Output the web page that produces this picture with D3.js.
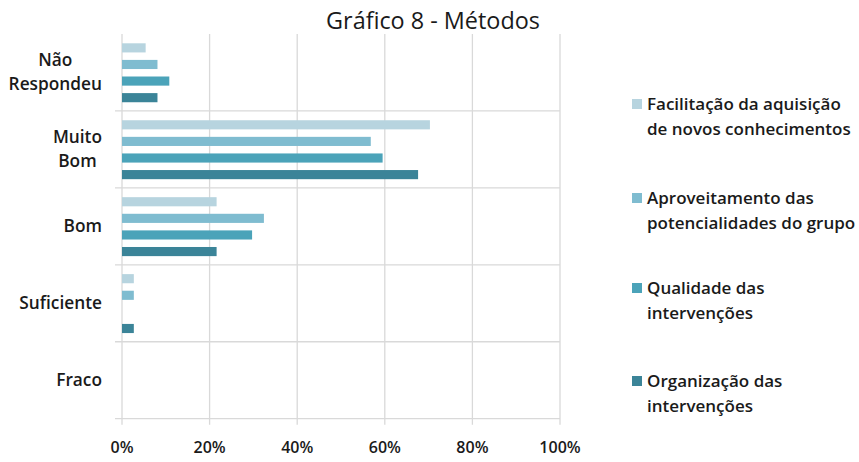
<!DOCTYPE html>
<html><head><meta charset="utf-8">
<script src="https://cdn.jsdelivr.net/npm/d3@7"></script>
<style>body{margin:0;background:#fff}svg{display:block}</style>
</head><body>
<svg id="c" width="859" height="462"></svg>
<script>
const title = "Gráfico 8 - Métodos";
const categories = ["Não Respondeu", "Muito Bom", "Bom", "Suficiente", "Fraco"];
const categoryLines = [["Não", "Respondeu"], ["Muito", "Bom"], ["Bom"], ["Suficiente"], ["Fraco"]];
const seriesNames = ["Facilitação da aquisição de novos conhecimentos", "Aproveitamento das potencialidades do grupo", "Qualidade das intervenções", "Organização das intervenções"];
const legendLines = [["Facilitação da aquisição", "de novos conhecimentos"], ["Aproveitamento das", "potencialidades do grupo"], ["Qualidade das", "intervenções"], ["Organização das", "intervenções"]];
const colors = ["#b7d4df", "#7fbcd0", "#4ba3b9", "#3b8498"];
// values in %, per series, in category order
const facilitacao   = [5.4, 70.3, 21.6, 2.7, 0];
const aproveitamento = [8.1, 56.8, 32.4, 2.7, 0];
const qualidade     = [10.8, 59.5, 29.7, 0, 0];
const organizacao   = [8.1, 67.6, 21.6, 2.7, 0];
const seriesValues = [facilitacao, aproveitamento, qualidade, organizacao];
const tickValues = [0, 20, 40, 60, 80, 100];

const svg = d3.select("#c");
const FONT = "'Open Sans', Lato, sans-serif";
const pLeft = 122, pRight = 560, pTop = 34, pBottom = 418.7;

const x = d3.scaleLinear().domain([0, 100]).range([pLeft, pRight]);
const y = d3.scaleBand().domain(categories).range([pTop, pBottom]);
const inner = d3.scaleBand().domain(d3.range(seriesNames.length))
  .range([9.3, y.bandwidth() - 8.7]).paddingInner(0.45);

const grid = "#d9d9d9";
svg.append("g").selectAll("line").data(tickValues).join("line")
  .attr("x1", d => x(d)).attr("x2", d => x(d))
  .attr("y1", pTop).attr("y2", pBottom + 6)
  .attr("stroke", grid).attr("stroke-width", 1.3);
const seps = categories.map(c => y(c)).concat([pBottom]);
svg.append("g").selectAll("line").data(seps.slice(1)).join("line")
  .attr("x1", pLeft - 7).attr("x2", pRight)
  .attr("y1", d => d).attr("y2", d => d)
  .attr("stroke", grid).attr("stroke-width", 1.3);

categories.forEach((c, ci) => {
  seriesValues.forEach((vals, si) => {
    if (vals[ci] <= 0) return;
    svg.append("rect")
      .attr("x", x(0)).attr("y", y(c) + inner(si))
      .attr("width", x(vals[ci]) - x(0)).attr("height", inner.bandwidth())
      .attr("fill", colors[si]);
  });
});

svg.append("g").selectAll("text").data(tickValues).join("text")
  .attr("x", d => x(d)).attr("y", 453)
  .attr("text-anchor", "middle")
  .attr("font-family", FONT).attr("font-weight", 600).attr("font-size", 16)
  .attr("fill", "#1a1a1a")
  .text(d => d + "%");

categories.forEach((c, ci) => {
  const lines = categoryLines[ci];
  const g = svg.append("g");
  const texts = lines.map((l) => g.append("text")
    .attr("font-family", FONT).attr("font-weight", 600).attr("font-size", 17.3)
    .attr("fill", "#1a1a1a").attr("text-anchor", "middle").text(l));
  const w = d3.max(texts, t => t.node().getComputedTextLength());
  const cx = 102 - w / 2;
  const cy = y(c) + y.bandwidth() / 2;
  const lh = 24;
  texts.forEach((t, li) => {
    t.attr("x", cx).attr("y", cy + (li - (lines.length - 1) / 2) * lh + 6);
  });
});

svg.append("text").attr("x", 433).attr("y", 29).attr("text-anchor", "middle")
  .attr("font-family", FONT).attr("font-size", 23.4).attr("fill", "#1a1a1a")
  .text(title);

const legendY = [104, 198, 288, 381];
seriesNames.forEach((s, i) => {
  svg.append("rect").attr("x", 632).attr("y", legendY[i] - 5)
    .attr("width", 10).attr("height", 10).attr("fill", colors[i]);
  legendLines[i].forEach((l, li) => {
    svg.append("text").attr("x", 647).attr("y", legendY[i] + li * 24.5 + 6)
      .attr("font-family", FONT).attr("font-weight", 600).attr("font-size", 17)
      .attr("fill", "#1a1a1a").text(l);
  });
});
</script>
</body></html>
